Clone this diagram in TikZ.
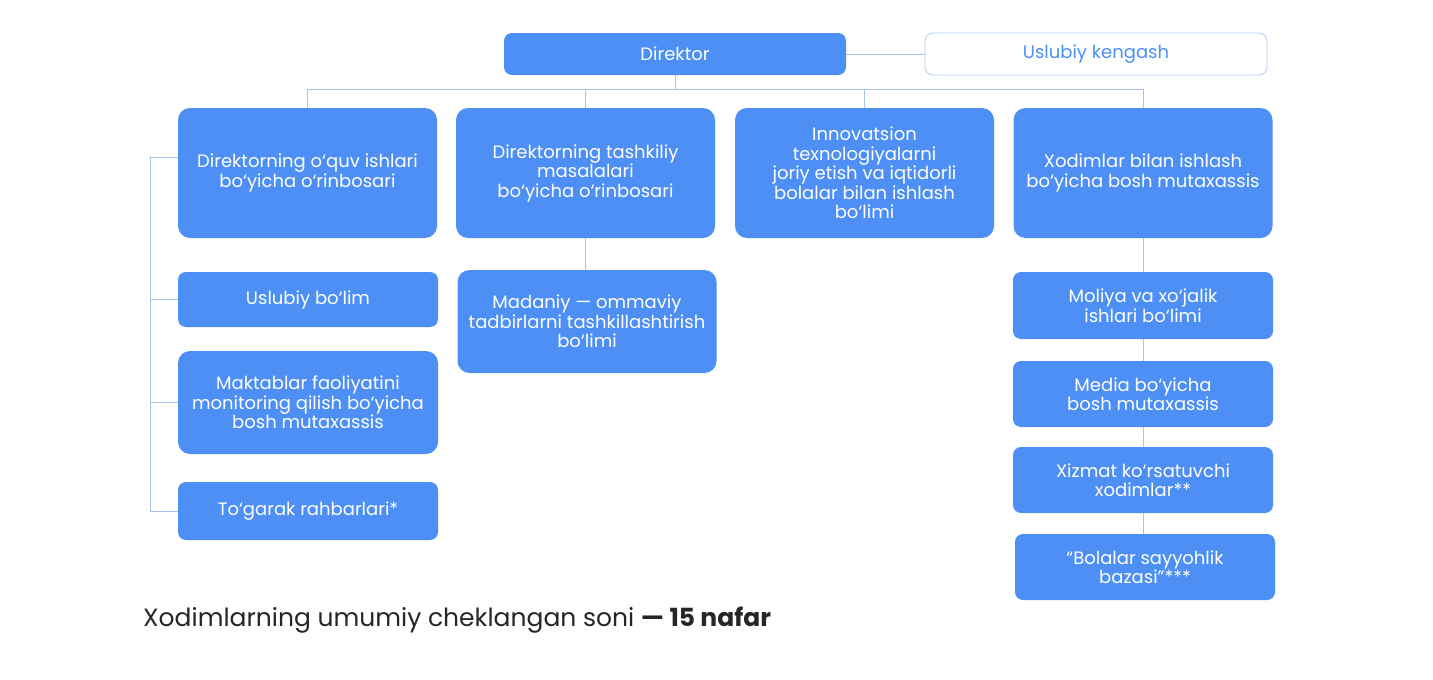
\documentclass[tikz,border=0pt]{standalone}
\usepackage{fontspec}
\setmainfont{Poppins}
\definecolor{boxblue}{RGB}{77,143,245}
\definecolor{linkblue}{RGB}{170,196,240}
\definecolor{edgeblue}{RGB}{180,205,245}
\tikzset{
  box/.style = {fill = boxblue, text = white, rounded corners = 12pt, align = center,
                inner sep = 0pt, minimum width = 259pt,
                font = \fontsize{18}{19.5}\selectfont},
  smallbox/.style = {box, rounded corners = 8pt},
  link/.style = {draw = linkblue, line width = 0.8pt}
}
\begin{document}
\begin{tikzpicture}[x = 1pt, y = -1pt]
        \useasboundingbox[fill = white] (0, 0) rectangle (1433, 680);
        % top
        \node[smallbox, minimum width = 342pt, minimum height = 42pt] (dir) at (675, 54) {Direktor};
        \node[smallbox, minimum width = 342pt, minimum height = 42pt, fill = white, draw = edgeblue,
              text = boxblue, line width = 0.8pt] (kengash) at (1096, 54) {Uslubiy kengash};

        % deputies
        \node[box, minimum height = 130pt] (oquv) at (307.5, 173) {Direktorning o‘quv ishlari\\bo‘yicha o‘rinbosari};
        \node[box, minimum height = 130pt] (tashkiliy) at (585.5, 173) {Direktorning tashkiliy\\masalalari\\bo‘yicha o‘rinbosari};
        \node[box, minimum height = 130pt] (innov) at (864.5, 173) {Innovatsion\\texnologiyalarni\\joriy etish va iqtidorli\\bolalar bilan ishlash\\bo‘limi};
        \node[box, minimum height = 130pt] (xodim) at (1143, 173) {Xodimlar bilan ishlash\\bo‘yicha bosh mutaxassis};

        % left column
        \node[smallbox, minimum width = 260pt, minimum height = 55pt] (uslubiy) at (308, 299.5) {Uslubiy bo‘lim};
        \node[box, minimum width = 260pt, minimum height = 103pt] (maktab) at (308, 402.5) {Maktablar faoliyatini\\monitoring qilish bo‘yicha\\bosh mutaxassis};
        \node[smallbox, minimum width = 260pt, minimum height = 58pt] (togarak) at (308, 511) {To‘garak rahbarlari*};

        % middle column
        \node[box, minimum height = 103pt] (madaniy) at (587, 321.5) {Madaniy — ommaviy\\tadbirlarni tashkillashtirish\\bo‘limi};

        % right column
        \node[smallbox, minimum width = 260pt, minimum height = 67pt] (moliya) at (1143, 305.5) {Moliya va xo‘jalik\\ishlari bo‘limi};
        \node[smallbox, minimum width = 260pt, minimum height = 66pt] (media) at (1143, 394) {Media bo‘yicha\\bosh mutaxassis};
        \node[smallbox, minimum width = 260pt, minimum height = 66pt] (xizmat) at (1143, 480) {Xizmat ko‘rsatuvchi\\xodimlar**};
        \node[smallbox, minimum width = 260pt, minimum height = 66pt] (bolalar) at (1145, 567) {“Bolalar sayyohlik\\bazasi”***};

        % connectors
        \coordinate (bus) at (0, 89);
        \coordinate (spine) at (150, 0);
        \draw[link] (dir.east) -- (kengash.west);
        \draw[link] (dir.south) -- (dir.south |- bus);
        \draw[link] (oquv.north) |- (bus -| xodim.north) -- (xodim.north);
        \draw[link] (tashkiliy.north) -- (tashkiliy.north |- bus);
        \draw[link] (innov.north) -- (innov.north |- bus);
        \draw[link] ([yshift = 16pt]oquv.west) -| (spine |- togarak.west) -- (togarak.west);
        \draw[link] (uslubiy.west) -- (spine |- uslubiy.west);
        \draw[link] (maktab.west) -- (spine |- maktab.west);
        \draw[link] (tashkiliy.south) -- (tashkiliy.south |- madaniy.north);
        \draw[link] (xodim.south) -- (moliya.north);
        \draw[link] (moliya.south) -- (media.north);
        \draw[link] (media.south) -- (xizmat.north);
        \draw[link] (xizmat.south) -- (xizmat.south |- bolalar.north);

        % footer
        \node[anchor = base west, inner sep = 0pt, text = black!85, font = \fontsize{25}{28}\selectfont] (jami) at (143, 626)
              {Xodimlarning umumiy cheklangan soni \textbf{— 15 nafar}};
\end{tikzpicture}
\end{document}
